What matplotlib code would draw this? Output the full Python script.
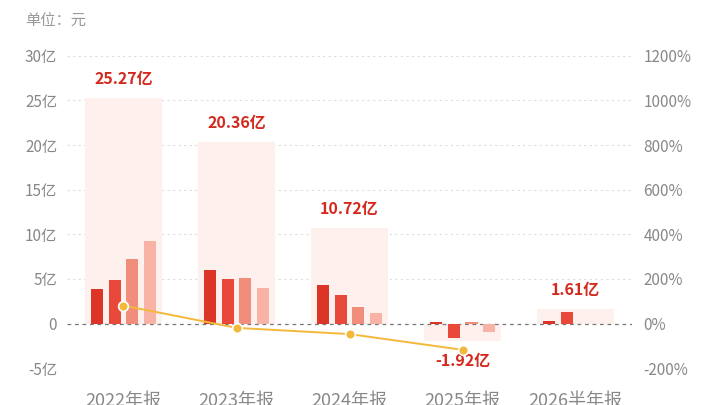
import matplotlib
matplotlib.use("Agg")
import numpy as np
import matplotlib.pyplot as plt

plt.rcParams['font.family'] = ['Noto Sans CJK SC', 'DejaVu Sans']

categories = ["2022年报", "2023年报", "2024年报", "2025年报", "2026半年报"]
totals = [25.27, 20.36, 10.72, -1.92, 1.61]  # 亿
total_labels = ["25.27亿", "20.36亿", "10.72亿", "-1.92亿", "1.61亿"]
# single quarter values, 亿 (None = no data)
q1 = [3.88, 6.05, 4.29, 0.2, 0.26]
q2 = [4.93, 5.04, 3.25, -1.6, 1.3]
q3 = [7.28, 5.10, 1.83, 0.18, None]
q4 = [9.20, 4.00, 1.23, -0.93, None]
growth = [80.6, -19.4, -47.3, -117.9]  # %, yoy of totals

left_ticks = [-5, 0, 5, 10, 15, 20, 25, 30]
left_labels = ["-5亿", "0", "5亿", "10亿", "15亿", "20亿", "25亿", "30亿"]
right_ticks = [-200, 0, 200, 400, 600, 800, 1000, 1200]
right_labels = [f"{t}%" for t in right_ticks]

q_colors = ["#dc3426", "#e8493b", "#f08d7b", "#f8b3a6"]
bg_color = "#fef1ed"
line_color = "#f3b93a"
txt_gray = "#888888"
red_txt = "#d42a1e"

fig = plt.figure(figsize=(7.2, 4.05), dpi=100)
ax = fig.add_axes([0.093, 0.091, 0.785, 0.771])
ax2 = ax.twinx()

x = np.arange(len(categories))
ax.bar(x, totals, width=0.68, color=bg_color, zorder=1)

bw = 0.108
step = 0.156
for k, qs in enumerate([q1, q2, q3, q4]):
    for i, v in enumerate(qs):
        if v is None:
            continue
        ax.bar(x[i] + (k - 1.5) * step, v, width=bw, color=q_colors[k], zorder=3)

# total value labels above / below the background bars
for i, t in enumerate(totals):
    if t >= 0:
        ax.annotate(total_labels[i], (x[i], t), xytext=(0, 8), textcoords="offset points",
                    ha="center", va="bottom", color=red_txt, fontsize=11.5, fontweight="bold")
    else:
        ax.annotate(total_labels[i], (x[i], t), xytext=(0, -9), textcoords="offset points",
                    ha="center", va="top", color=red_txt, fontsize=11.5, fontweight="bold")

for t in left_ticks:
    if t == 0:
        ax.axhline(0, color="#777777", lw=0.9, ls=(0, (3, 3)), zorder=2)
    else:
        ax.axhline(t, color="#dddddd", lw=0.8, ls=(0, (2, 3)), zorder=0)

ax.set_xlim(-0.5, len(categories) - 0.5)
ax.set_ylim(-5, 30)
ax.set_yticks(left_ticks)
ax.set_yticklabels(left_labels)
ax.set_xticks(x)
ax.set_xticklabels(categories, fontsize=13)
ax.tick_params(axis="y", length=0, pad=7, labelsize=11, labelcolor=txt_gray)
ax.tick_params(axis="x", length=0, pad=17, labelcolor=txt_gray)

ax2.plot(x[:len(growth)], growth, color=line_color, lw=1.4, marker="o", markersize=7,
         markerfacecolor=line_color, markeredgecolor="white", markeredgewidth=1.2, zorder=5)
ax2.set_ylim(-200, 1200)
ax2.set_yticks(right_ticks)
ax2.set_yticklabels(right_labels)
ax2.tick_params(axis="y", length=0, pad=8, labelsize=11, labelcolor=txt_gray)

for a in (ax, ax2):
    for s in a.spines.values():
        s.set_visible(False)
ax2.patch.set_visible(False)

fig.text(0.035, 0.948, "单位：元", fontsize=11, color="#999999", ha="left", va="center")

fig.savefig("out.png", dpi=100)
